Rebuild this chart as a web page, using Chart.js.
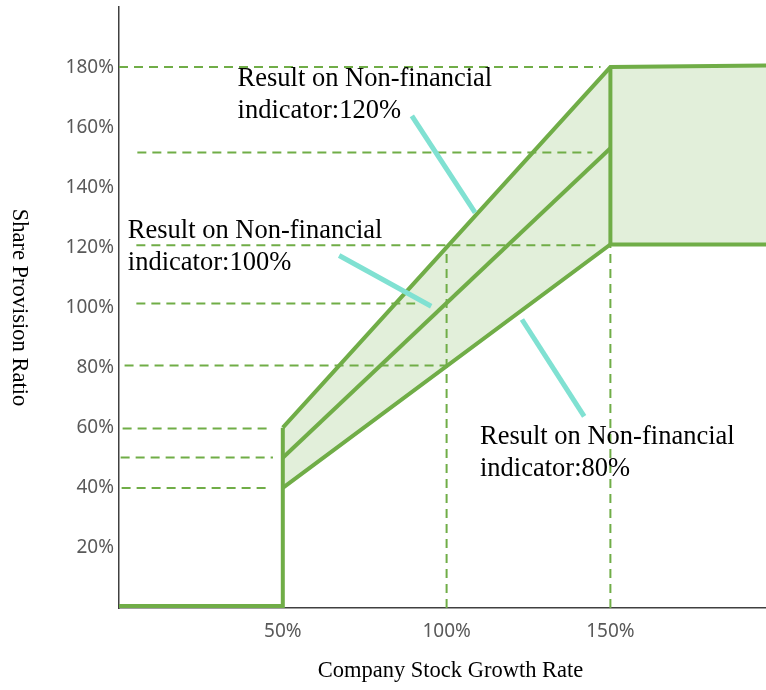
<!DOCTYPE html>
<html>
<head>
<meta charset="utf-8">
<script src="https://cdn.jsdelivr.net/npm/chart.js@4.4.1/dist/chart.umd.min.js"></script>
<style>
  html, body { margin: 0; padding: 0; background: #ffffff; }
  #wrap { width: 766px; height: 690px; }
</style>
</head>
<body>
<div id="wrap"><canvas id="c" width="766" height="690"></canvas></div>
<script>
// ---- data (percent units) ----
const xTickValues = [50, 100, 150];
const yTickValues = [20, 40, 60, 80, 100, 120, 140, 160, 180];

const floorPath  = [[0, 0.7], [50, 0.7], [50, 60]];
const upperPath  = [[50, 60], [150, 180], [197.5, 180.5]];
const middlePath = [[50, 50], [150, 153]];
const lowerPath  = [[50, 40], [150, 121], [197.5, 121]];
const capEdge    = [[150, 121], [150, 180]];

// horizontal dashed guides: level, start x, end x
const guideLevels = [180, 151.6, 120.7, 101.3, 80.7, 59.7, 50.1, 39.9];
const guideFrom   = [0, 5.6, 5.3, 5.3, 1.7, 1.1, 0.5, 0.8];
const guideTo     = [147, 144.5, 146, 90.4, 100, 46.6, 47, 46];

// vertical dashed guides
const vGuideX   = [100, 150];
const vGuideTop = [120.7, 180];

// callout leader lines: x1, y1, x2, y2
const callouts = [
  [89.4, 163.8, 108.7, 131.6],
  [67.2, 117.3, 95.3, 100.4],
  [123.0, 96.0, 142.0, 63.8]
];

// annotation texts and anchors (data units, first-line baseline)
const noteTexts = [
  ["Result on Non-financial", "indicator:120%"],
  ["Result on Non-financial", "indicator:100%"],
  ["Result on Non-financial", "indicator:80%"]
];
const noteX = [36.2, 2.7, 110.2];
const noteY = [173.8, 123.2, 54.6];

const xTitle = "Company Stock Growth Rate";
const yTitle = "Share Provision Ratio";

// ---- styles ----
const GREEN = '#70AD47';
const FILL = '#E2EFDA';
const TEAL = '#80E1D2';
const pts = arr => arr.map(p => ({x: p[0], y: p[1]}));

const solid = (data, extra) => Object.assign({
  data: pts(data), borderColor: GREEN, borderWidth: 4, pointRadius: 0,
  tension: 0, fill: false, borderJoinStyle: 'miter', showLine: true
}, extra || {});

const datasets = [];
// callouts (top-most)
callouts.forEach(c => datasets.push({
  data: [{x: c[0], y: c[1]}, {x: c[2], y: c[3]}],
  borderColor: TEAL, borderWidth: 5, pointRadius: 0, fill: false, showLine: true
}));
const upperIndex = datasets.length;
datasets.push(solid(upperPath, {fill: {target: upperIndex + 2}, backgroundColor: FILL}));
datasets.push(solid(middlePath));
datasets.push(solid(lowerPath));
datasets.push(solid(floorPath));
datasets.push(solid(capEdge));
// dashed guides (underneath)
guideLevels.forEach((lv, i) => datasets.push({
  data: [{x: guideFrom[i], y: lv}, {x: guideTo[i], y: lv}],
  borderColor: GREEN, borderWidth: 2, borderDash: [9, 6], pointRadius: 0, fill: false, showLine: true
}));
vGuideX.forEach((vx, i) => datasets.push({
  data: [{x: vx, y: 0}, {x: vx, y: vGuideTop[i]}],
  borderColor: GREEN, borderWidth: 2, borderDash: [9, 6], pointRadius: 0, fill: false, showLine: true
}));

const textPlugin = {
  id: 'texts',
  afterDatasetsDraw(chart) {
    const {ctx, scales: {x, y}, chartArea} = chart;
    ctx.save();
    ctx.fillStyle = '#000000';
    ctx.font = '26.5px "Liberation Serif", "Times New Roman", serif';
    ctx.textAlign = 'left';
    ctx.textBaseline = 'alphabetic';
    noteTexts.forEach((lines, i) => {
      const px = x.getPixelForValue(noteX[i]);
      const py = y.getPixelForValue(noteY[i]);
      lines.forEach((t, j) => ctx.fillText(t, px, py + j * 32));
    });
    // axis titles
    ctx.font = '22.5px "Liberation Serif", "Times New Roman", serif';
    ctx.textAlign = 'center';
    ctx.textBaseline = 'middle';
    ctx.fillText(xTitle, (chartArea.left + chartArea.right) / 2 + 8, chartArea.bottom + 63);
    ctx.translate(19, (chartArea.top + chartArea.bottom) / 2);
    ctx.rotate(Math.PI / 2);
    ctx.fillText(yTitle, 0, 0);
    ctx.restore();
  }
};

const noPad = s => { s.paddingTop = 0; s.paddingBottom = 0; s.paddingLeft = 0; s.paddingRight = 0; };

new Chart(document.getElementById('c'), {
  type: 'scatter',
  data: {datasets},
  options: {
    responsive: false,
    devicePixelRatio: 1,
    animation: false,
    layout: {padding: {left: 0, right: 0, top: 7, bottom: 0}},
    plugins: {
      legend: {display: false},
      tooltip: {enabled: false},
      filler: {drawTime: 'beforeDatasetsDraw'}
    },
    scales: {
      x: {
        type: 'linear', min: 0, max: 197.5,
        grid: {display: false, drawTicks: false},
        border: {display: true, color: '#404040', width: 1.5},
        afterBuildTicks: s => { s.ticks = xTickValues.map(v => ({value: v})); },
        afterFit: s => { s.height = 82; noPad(s); },
        ticks: {
          padding: 12, color: '#595959', maxRotation: 0, autoSkip: false,
          font: {family: '"Noto Sans", sans-serif', size: 19},
          callback: v => v + '%'
        }
      },
      y: {
        type: 'linear', min: 0, max: 200,
        grid: {display: false, drawTicks: false},
        border: {display: true, color: '#404040', width: 1.5},
        afterBuildTicks: s => { s.ticks = yTickValues.map(v => ({value: v})); },
        afterFit: s => { s.width = 119; noPad(s); },
        ticks: {
          padding: 5, color: '#595959', autoSkip: false,
          font: {family: '"Noto Sans", sans-serif', size: 19},
          callback: v => v + '%'
        }
      }
    }
  },
  plugins: [textPlugin]
});
</script>
</body>
</html>
